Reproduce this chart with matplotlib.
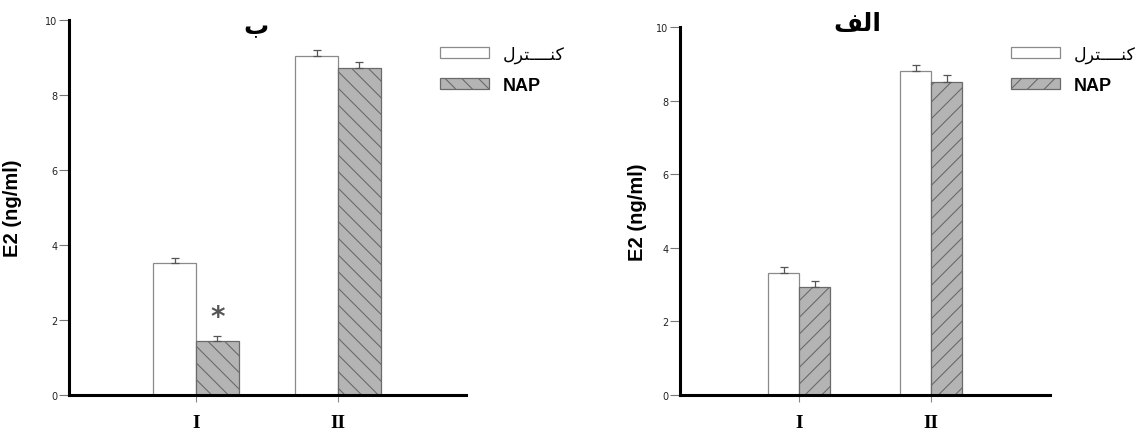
import numpy as np
import matplotlib
matplotlib.use("Agg")
import matplotlib.pyplot as plt

# Data
groups = ["I", "II"]
# panel ب (left)
ctrl_b = [3.52, 9.04]
ctrl_b_err = [0.14, 0.16]
nap_b = [1.44, 8.72]
nap_b_err = [0.13, 0.16]
star_b = 2.08  # height of the * over NAP group I
# panel الف (right)
ctrl_a = [3.31, 8.82]
ctrl_a_err = [0.16, 0.16]
nap_a = [2.94, 8.52]
nap_a_err = [0.15, 0.17]

# Arabic text written with presentation forms in visual order
title_b = "\uFE8F"                       # ب
title_a = "\uFED2\uFEDF\uFE8D"           # الف
lbl_ctrl = "\uFEDD\uFEAE\uFE98\u0640\u0640\u0640\u0640\uFEE8\uFEDB"  # کنـــترل
lbl_nap = "NAP"

fig = plt.figure(figsize=(11.37, 4.35), dpi=100)


def panel(rect, ctrl, ctrl_err, nap, nap_err, width, hatch, xlim, title, title_xy, ylab_x):
    ax = fig.add_axes(rect)
    x = np.arange(len(groups))
    b1 = ax.bar(x - width / 2, ctrl, width, color="white", edgecolor="#8a8a8a",
                linewidth=0.9, label=lbl_ctrl, zorder=2,
                yerr=[np.zeros(len(ctrl)), ctrl_err], capsize=3,
                error_kw=dict(ecolor="#555555", elinewidth=0.9, capthick=0.9))
    b2 = ax.bar(x + width / 2, nap, width, color="#b4b4b4", edgecolor="#6a6a6a",
                linewidth=0.9, hatch=hatch, label=lbl_nap, zorder=2,
                yerr=[np.zeros(len(nap)), nap_err], capsize=3,
                error_kw=dict(ecolor="#555555", elinewidth=0.9, capthick=0.9))
    ax.set_xlim(*xlim)
    ax.set_ylim(0, 10)
    ax.set_yticks([0, 2, 4, 6, 8, 10])
    ax.set_xticks(x)
    ax.set_xticklabels(groups, fontfamily="Liberation Serif", fontweight="bold", fontsize=14)
    ax.tick_params(axis="y", length=7, width=0.8, color="#777777", labelsize=7, pad=1.5,
                   labelcolor="#222222")
    ax.tick_params(axis="x", length=5, width=0.8, color="#888888", pad=9)
    for s in ["top", "right"]:
        ax.spines[s].set_visible(False)
    for s in ["left", "bottom"]:
        ax.spines[s].set_linewidth(2.2)
        ax.spines[s].set_color("black")
    ax.spines["bottom"].set_zorder(3)
    ax.set_ylabel("E2 (ng/ml)", fontfamily="Liberation Sans", fontweight="bold", fontsize=14.5)
    ax.yaxis.set_label_coords(ylab_x, 0.5)
    ax.set_facecolor("none")
    fig.text(title_xy[0], title_xy[1], title, fontfamily="DejaVu Sans", fontweight="bold",
             fontsize=18, ha="center", va="baseline", zorder=10)
    return ax, b1, b2


matplotlib.rcParams["hatch.color"] = "#555555"
matplotlib.rcParams["hatch.linewidth"] = 0.8

ax_b, b1, b2 = panel([69 / 1137, 1 - 396 / 435, 397 / 1137, 375 / 435],
                     ctrl_b, ctrl_b_err, nap_b, nap_b_err, 0.30, "\\\\",
                     (-0.894, 1.9), title_b, (256 / 1137, 1 - 34 / 435), -0.118)
ax_b.text(0.15, star_b, "*", ha="center", va="center", fontsize=20, fontweight="bold",
          color="#555555", fontfamily="DejaVu Sans")

ax_a, a1, a2 = panel([680.5 / 1137, 1 - 396 / 435, 369.5 / 1137, 367.7 / 435],
                     ctrl_a, ctrl_a_err, nap_a, nap_a_err, 0.235, "//",
                     (-0.898, 1.9), title_a, (857 / 1137, 1 - 31 / 435), -0.09)


def legend(ax, h, x0, y0):
    leg = ax.legend(h, [lbl_ctrl, lbl_nap], loc="upper left",
                    bbox_to_anchor=(x0, y0), bbox_transform=fig.transFigure,
                    frameon=False, borderpad=0, borderaxespad=0, fontsize=13,
                    handlelength=2.7, handleheight=0.6, handletextpad=0.8,
                    labelspacing=0.75)
    t = leg.get_texts()
    t[0].set_fontfamily("DejaVu Sans")
    t[0].set_fontsize(12.5)
    t[1].set_fontfamily("Liberation Sans")
    t[1].set_fontweight("bold")
    leg.set_clip_on(False)
    return leg


legend(ax_b, [b1, b2], 440 / 1137, 1 - 46 / 435)
legend(ax_a, [a1, a2], 1011 / 1137, 1 - 46 / 435)

fig.savefig("out.png", dpi=100, facecolor="white")
